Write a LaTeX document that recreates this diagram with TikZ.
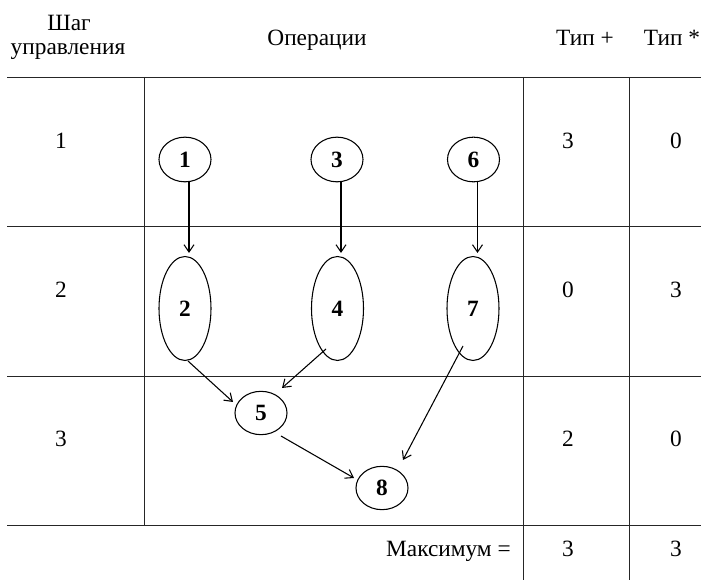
\documentclass[tikz,border=0pt]{standalone}
\usepackage{fontspec}
\setmainfont{Liberation Serif}
\usetikzlibrary{shapes.geometric,arrows.meta}
\begin{document}
\begin{tikzpicture}[x=0.75pt,y=-0.75pt,
  txt/.style={anchor=base, inner sep=0pt, font=\fontsize{17.5}{18.4}\selectfont},
  op/.style={draw, ellipse, inner sep=0pt, minimum width=39pt, minimum height=33.5pt,
    font=\fontsize{17.5}{18.4}\selectfont\bfseries, line width=0.8pt},
  opt/.style={op, minimum height=78pt},
  gridline/.style={line width=0.7pt, draw=black!85},
  arr/.style={-{Straight Barb[length=5.5pt,width=7.5pt]}, line width=0.8pt}]
\useasboundingbox (0,0) rectangle (701,580);
% table lines
\coordinate (h1l) at (7,77);   \coordinate (h1r) at (701,77);
\coordinate (h2l) at (7,226);  \coordinate (h2r) at (701,226);
\coordinate (h3l) at (7,376);  \coordinate (h3r) at (701,376);
\coordinate (h4l) at (7,525);  \coordinate (h4r) at (701,525);
\coordinate (v1t) at (144,77); \coordinate (v1b) at (144,525);
\coordinate (v2t) at (523,77); \coordinate (v2b) at (523,580);
\coordinate (v3t) at (629,77); \coordinate (v3b) at (629,580);
\draw[gridline] (h1l) -- (h1r);
\draw[gridline] (h2l) -- (h2r);
\draw[gridline] (h3l) -- (h3r);
\draw[gridline] (h4l) -- (h4r);
\draw[gridline] (v1t) -- (v1b);
\draw[gridline] (v2t) -- (v2b);
\draw[gridline] (v3t) -- (v3b);
% headers
\node[txt] (hs1) at (69,30.7) {Шаг};
\node[txt] (hs2) at (68,55) {управления};
\node[txt] (hop) at (317,46) {Операции};
\node[txt] (hp) at (585,46) {Тип +};
\node[txt] (hm) at (672,46) {Тип *};
% row labels
\node[txt] (r1) at (61,149) {1};
\node[txt] (r2) at (61,298) {2};
\node[txt] (r3) at (61,447) {3};
% values
\node[txt] (p1) at (568,149) {3};
\node[txt] (m1) at (676,149) {0};
\node[txt] (p2) at (568,298) {0};
\node[txt] (m2) at (676,298) {3};
\node[txt] (p3) at (568,447) {2};
\node[txt] (m3) at (676,447) {0};
\node[txt, anchor=base east] (mx) at (511,557) {Максимум =};
\node[txt] (pm) at (568,557) {3};
\node[txt] (mm) at (676,557) {3};
% operations
\node[op] (n1) at (185,159.5) {1};
\node[op] (n3) at (337,159.5) {3};
\node[op] (n6) at (473.5,159.5) {6};
\node[opt] (n2) at (185,308.5) {2};
\node[opt] (n4) at (337.5,308.5) {4};
\node[opt] (n7) at (473,308.5) {7};
\node[op, minimum height=32.5pt] (n5) at (261,413) {5};
\node[op, minimum height=32.5pt] (n8) at (382,488) {8};
% connectors
\draw[arr] ([shift={(4,0)}]n1.south) -- ([shift={(4,-3)}]n2.north);
\draw[arr] ([shift={(4,0)}]n3.south) -- ([shift={(3.5,-3)}]n4.north);
\draw[arr] ([shift={(4,0)}]n6.south) -- ([shift={(4.5,-3)}]n7.north);
\draw[arr] ([shift={(3,0)}]n2.south) -- ([shift={(-28,-11)}]n5.center);
\draw[arr] ([shift={(-11.5,40.5)}]n4.center) -- ([shift={(21,-25)}]n5.center);
\draw[arr] ([shift={(-10,37.5)}]n7.center) -- ([shift={(21,-28)}]n8.center);
\draw[arr] ([shift={(20,23)}]n5.center) -- ([shift={(-28,-10)}]n8.center);
\end{tikzpicture}
\end{document}
